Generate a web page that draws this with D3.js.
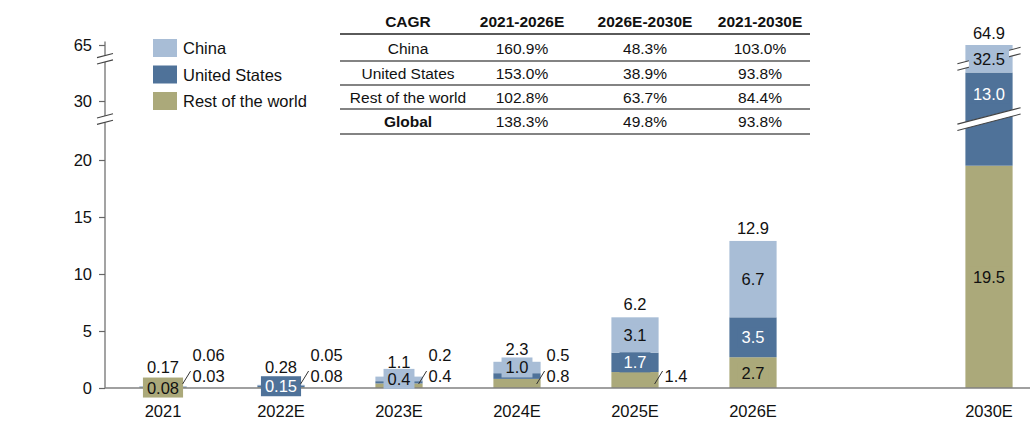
<!DOCTYPE html>
<html>
<head>
<meta charset="utf-8">
<script src="https://cdn.jsdelivr.net/npm/d3@7"></script>
<style>
  body { margin: 0; background: #fff; }
  svg { display: block; font-family: "Liberation Sans", Arial, sans-serif; }
</style>
</head>
<body>
<div id="chart"></div>
<script>
// data
const years = ["2021", "2022E", "2023E", "2024E", "2025E", "2026E", "2030E"];
const rowValues = [0.08, 0.08, 0.4, 0.8, 1.4, 2.7, 19.5];   // Rest of the world
const usValues = [0.03, 0.15, 0.2, 0.5, 1.7, 3.5, 13.0];     // United States
const chinaValues = [0.06, 0.05, 0.4, 1.0, 3.1, 6.7, 32.5];  // China
const totals = [0.17, 0.28, 1.1, 2.3, 6.2, 12.9, 64.9];
const decimals = [2, 2, 1, 1, 1, 1, 1];
// which segments are labelled beside the bar instead of inside it (upper first)
const sideLabels = [["china", "us"], ["china", "row"], ["us", "row"], ["us", "row"], ["row"], [], []];

const yTicks = [0, 5, 10, 15, 20, 30, 65];
const yBreaks = [[23, 29], [33.5, 64]];

const cagrHeader = ["CAGR", "2021-2026E", "2026E-2030E", "2021-2030E"];
const cagrRegions = ["China", "United States", "Rest of the world", "Global"];
const cagr2126 = ["160.9%", "153.0%", "102.8%", "138.3%"];
const cagr2630 = ["48.3%", "38.9%", "63.7%", "49.8%"];
const cagr2130 = ["103.0%", "93.8%", "84.4%", "93.8%"];

const seriesKeys = ["row", "us", "china"];
const seriesNames = {china: "China", us: "United States", row: "Rest of the world"};
const colors = {china: "#a8bdd6", us: "#4f7299", row: "#aba97a"};
const textOn = {china: "#111", us: "#ffffff", row: "#111"};

const width = 1035, height = 423;
const y0 = 388;
const axisX = 105;
const labelSize = 16.5;

const table = years.map((year, i) => ({
  year, i, row: rowValues[i], us: usValues[i], china: chinaValues[i], total: totals[i]
}));

// x: one empty slot between 2026E and 2030E
const xSlots = [...years.slice(0, 6), "gap", years[6]];
const x = d3.scaleBand().domain(xSlots).range([104, 1048]).paddingInner(0.6).paddingOuter(0.3);

// broken y axis: piecewise linear, same slope on every piece
const y = d3.scaleLinear()
    .domain([0, 23, 29, 33.5, 64, 66])
    .range([y0, 125.8, 112.4, 61.1, 56.4, 33.6]);

const svg = d3.select("#chart").append("svg")
    .attr("width", width)
    .attr("height", height)
    .attr("viewBox", [0, 0, width, height]);

const stack = d3.stack().keys(seriesKeys)(table);

// bars
const layer = svg.append("g")
  .selectAll("g")
  .data(stack)
  .join("g")
    .attr("fill", d => colors[d.key]);

layer.selectAll("rect")
  .data(d => d.map(p => ({key: d.key, p})))
  .join("rect")
    .attr("x", d => x(d.p.data.year))
    .attr("width", x.bandwidth())
    .attr("y", d => y(d.p[1]))
    .attr("height", d => y(d.p[0]) - y(d.p[1]));

// break band: white slanted gap with two edge lines
const slope = -0.26, gap = 3.2;
function breakBand(g, xa, xb, yc) {
  const xc = (xa + xb) / 2;
  const yy = (xx, s) => yc + s * gap + slope * (xx - xc);
  g.append("path")
      .attr("d", `M${xa},${yy(xa, -1)}L${xb},${yy(xb, -1)}L${xb},${yy(xb, 1)}L${xa},${yy(xa, 1)}Z`)
      .attr("fill", "#fff");
  [-1, 1].forEach(s => g.append("line")
      .attr("x1", xa).attr("y1", yy(xa, s))
      .attr("x2", xb).attr("y2", yy(xb, s))
      .attr("stroke", "#444").attr("stroke-width", 1.1));
}

const breaks = svg.append("g");
const bigYear = years[6];
yBreaks.forEach(([a, b]) => {
  const yc = (y(a) + y(b)) / 2;
  breakBand(breaks, x(bigYear) - 8, x(bigYear) + x.bandwidth() + 8, yc);
});

// y axis
const yAxis = d3.axisLeft(y).tickValues(yTicks).tickSize(6).tickPadding(7).tickFormat(d3.format("d"));
svg.append("g")
    .attr("transform", `translate(${axisX},0)`)
    .call(yAxis)
    .call(g => g.select(".domain").remove())
    .call(g => g.selectAll(".tick line").attr("stroke", "#666").attr("stroke-width", 1.2))
    .call(g => g.selectAll(".tick text").attr("font-size", 16.5).attr("fill", "#111").attr("font-family", null));

svg.append("line")
    .attr("x1", axisX).attr("x2", axisX)
    .attr("y1", y0).attr("y2", y(65.3))
    .attr("stroke", "#666").attr("stroke-width", 1.2);

yBreaks.forEach(([a, b]) => breakBand(svg.append("g"), axisX - 8, axisX + 8, (y(a) + y(b)) / 2));

// baseline
svg.append("line")
    .attr("x1", axisX).attr("x2", 1030)
    .attr("y1", y0).attr("y2", y0)
    .attr("stroke", "#808080").attr("stroke-width", 1.6);

// x labels
svg.append("g")
  .selectAll("text")
  .data(years)
  .join("text")
    .attr("x", d => x(d) + x.bandwidth() / 2)
    .attr("y", 411)
    .attr("text-anchor", "middle")
    .attr("dominant-baseline", "central")
    .attr("font-size", labelSize)
    .attr("fill", "#111")
    .text(d => d);

const fmt = (v, i) => v.toFixed(decimals[i]);

// where a segment crosses a break and the piece above it is tall, label that piece
function labelY(p) {
  const top = y(p[1]), bottom = y(p[0]);
  for (const [a, b] of yBreaks) {
    if (p[0] < a && p[1] > b) {
      const bc = (y(a) + y(b)) / 2;
      if (bc - top >= 30) return (top + bc - 4) / 2;
    }
  }
  return (top + bottom) / 2;
}

// inside labels, each on a box of its segment colour
const inside = [];
stack.forEach(s => s.forEach(p => {
  const i = p.data.i;
  if (!sideLabels[i].includes(s.key)) inside.push({key: s.key, i, v: p.data[s.key], cy: labelY(p)});
}));

const insideG = svg.append("g")
  .selectAll("g")
  .data(inside)
  .join("g")
    .attr("transform", d => `translate(${x(years[d.i]) + x.bandwidth() / 2},${d.cy})`);

insideG.append("text")
    .attr("text-anchor", "middle")
    .attr("dominant-baseline", "central")
    .attr("font-size", labelSize)
    .attr("fill", d => textOn[d.key])
    .text(d => fmt(d.v, d.i));

insideG.each(function(d) {
  const g = d3.select(this);
  const w = g.select("text").node().getComputedTextLength() + 8;
  g.insert("rect", "text")
      .attr("x", -w / 2).attr("y", -10)
      .attr("width", w).attr("height", 20)
      .attr("fill", colors[d.key]);
});

// side labels with a short leader
const sideG = svg.append("g");
table.forEach(d => {
  const keys = sideLabels[d.i];
  if (!keys.length) return;
  const right = x(d.year) + x.bandwidth();
  sideG.append("line")
      .attr("x1", right - 4).attr("y1", y0 - 4)
      .attr("x2", right + 4).attr("y2", y0 - 17)
      .attr("stroke", "#333").attr("stroke-width", 1);
  keys.slice().reverse().forEach((k, j) => {
    sideG.append("text")
        .attr("x", right + 6)
        .attr("y", y0 - 12 - j * 21)
        .attr("dominant-baseline", "central")
        .attr("font-size", labelSize)
        .attr("fill", "#111")
        .text(fmt(d[k], d.i));
  });
});

// totals
svg.append("g")
  .selectAll("text")
  .data(table)
  .join("text")
    .attr("x", d => x(d.year) + x.bandwidth() / 2)
    .attr("y", d => Math.min(y(d.total) - 13, y0 - 21))
    .attr("text-anchor", "middle")
    .attr("dominant-baseline", "central")
    .attr("font-size", labelSize)
    .attr("fill", "#111")
    .text(d => fmt(d.total, d.i));

// legend
const legend = svg.append("g")
  .selectAll("g")
  .data(["china", "us", "row"])
  .join("g")
    .attr("transform", (d, i) => `translate(153,${39 + i * 26.5})`);

legend.append("rect")
    .attr("width", 24).attr("height", 18)
    .attr("fill", d => colors[d]);

legend.append("text")
    .attr("x", 30).attr("y", 9)
    .attr("dominant-baseline", "central")
    .attr("font-size", labelSize)
    .attr("fill", "#111")
    .text(d => seriesNames[d]);

// CAGR table
const colX = [408, 522, 645, 760];
const rowY = [48, 73, 97, 121];
const tbl = svg.append("g").attr("font-size", 15.5).attr("fill", "#111");

tbl.selectAll(".hdr")
  .data(cagrHeader)
  .join("text")
    .attr("class", "hdr")
    .attr("x", (d, i) => colX[i]).attr("y", 21)
    .attr("text-anchor", "middle").attr("dominant-baseline", "central")
    .attr("font-weight", "bold")
    .text(d => d);

const cells = cagrRegions.map((r, i) => [r, cagr2126[i], cagr2630[i], cagr2130[i]]);
cells.forEach((row, r) => {
  tbl.selectAll(null)
    .data(row)
    .join("text")
      .attr("x", (d, i) => colX[i]).attr("y", rowY[r])
      .attr("text-anchor", "middle").attr("dominant-baseline", "central")
      .attr("font-weight", (d, i) => (i === 0 && r === 3) ? "bold" : null)
      .text(d => d);
});

tbl.selectAll("line")
  .data([34, 61, 85, 109, 134])
  .join("line")
    .attr("x1", 340).attr("x2", 810)
    .attr("y1", d => d).attr("y2", d => d)
    .attr("stroke", "#5a5a5a")
    .attr("stroke-width", (d, i) => i === 0 ? 2 : 1.6);
</script>
</body>
</html>
